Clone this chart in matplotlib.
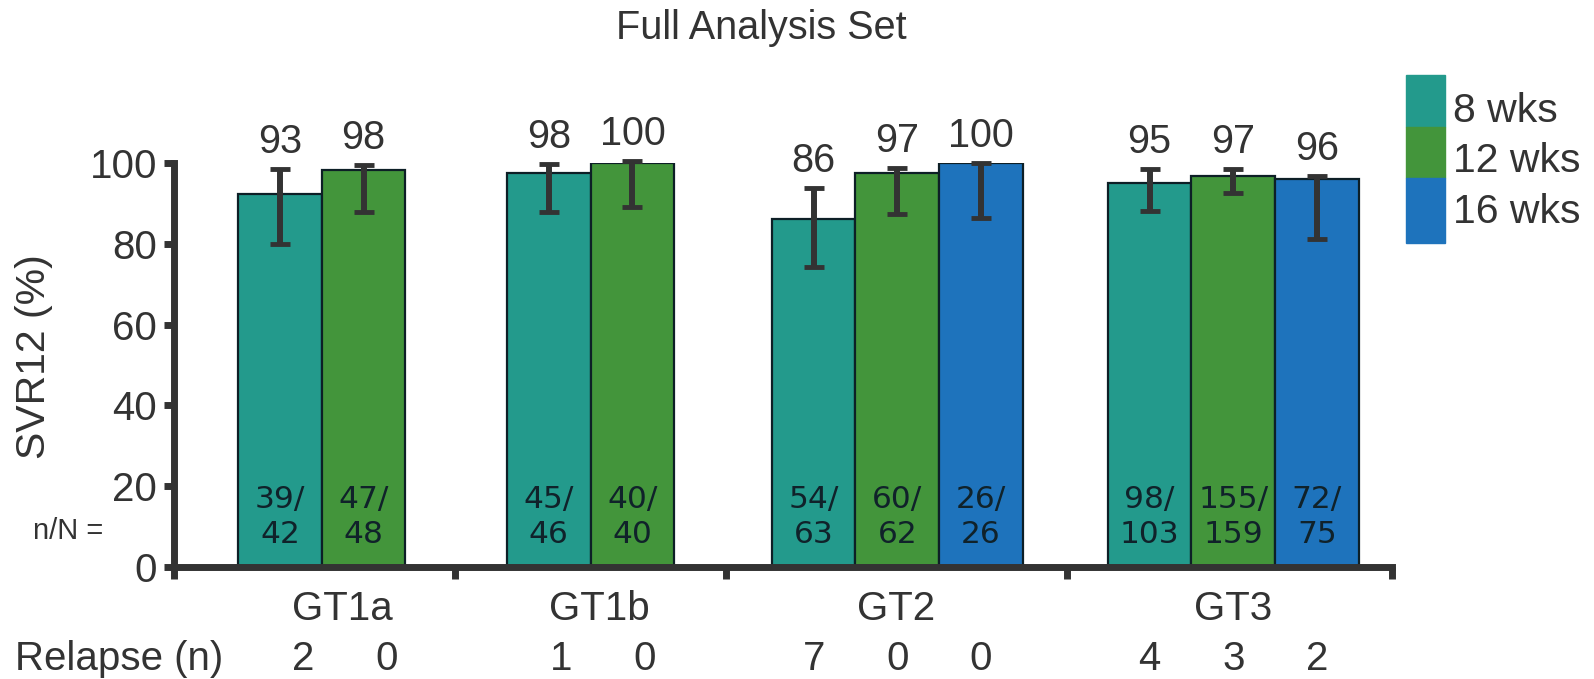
import matplotlib
matplotlib.use("Agg")
import matplotlib.pyplot as plt
import matplotlib.transforms as mtransforms
from matplotlib.patches import Rectangle

plt.rcParams['font.family'] = ['Liberation Sans', 'DejaVu Sans']

# data
genotypes = ['GT1a', 'GT1b', 'GT2', 'GT3']
durations = ['8 wks', '12 wks', '16 wks']
svr = [[92.3, 98.3], [97.5, 100.0], [86.1, 97.5, 100.0], [95.0, 96.8, 96.0]]
svr_labels = [['93', '98'], ['98', '100'], ['86', '97', '100'], ['95', '97', '96']]
ci_low = [[80.0, 87.9], [87.9, 89.1], [74.3, 87.4, 86.4], [88.2, 92.5, 81.1]]
ci_high = [[98.5, 99.5], [99.7, 100.6], [93.8, 98.8, 100.0], [98.4, 98.4, 96.7]]
n_resp = [[39, 47], [45, 40], [54, 60, 26], [98, 155, 72]]
n_total = [[42, 48], [46, 40], [63, 62, 26], [103, 159, 75]]
relapse = [[2, 0], [1, 0], [7, 0, 0], [4, 3, 2]]

colors = ['#239a8c', '#43953b', '#1e73bc']
dark = '#333333'

# layout (bar width = 1 unit)
group_start = [0.767, 3.98, 7.146, 11.163]
group_label_x = [2.01, 5.08, 8.63, 12.66]
relapse_shift = [0.28, 0.15, 0.0, 0.0]
separators = [0, 3.357, 6.595, 10.67, 14.56]

fig = plt.figure(figsize=(15.94, 6.79), dpi=100)
ax = fig.add_axes([174 / 1594, 1 - 567 / 679, 1218 / 1594, 404 / 679])

blend = mtransforms.blended_transform_factory(ax.transData, ax.transAxes)

for g, name in enumerate(genotypes):
    k = len(svr[g])
    xs = [group_start[g] + 0.5 + i for i in range(k)]
    ax.bar(xs, svr[g], width=1.0, color=colors[:k], edgecolor='#0d1f26',
           linewidth=1.6, zorder=2)
    lo = [v - l for v, l in zip(svr[g], ci_low[g])]
    hi = [h - v for v, h in zip(svr[g], ci_high[g])]
    eb = ax.errorbar(xs, svr[g], yerr=[lo, hi], fmt='none', ecolor=dark,
                     elinewidth=4.3, capsize=7, capthick=3.5, zorder=3)
    for art in eb.lines[1] + eb.lines[2]:
        art.set_clip_on(False)
    for i, x in enumerate(xs):
        ax.annotate(svr_labels[g][i], (x, ci_high[g][i]), xytext=(0, 11.5),
                    textcoords='offset points', ha='center', va='baseline',
                    fontsize=28.5, color=dark, annotation_clip=False)
        ax.text(x, 5.94, f"{n_resp[g][i]}/\n{n_total[g][i]}", ha='center',
                va='baseline', multialignment='center', fontsize=22.5,
                family='DejaVu Sans', color='#10222a', linespacing=1.27,
                zorder=4)
        ax.text(x + relapse_shift[g], -0.255, str(relapse[g][i]),
                transform=blend, ha='center', va='baseline',
                fontsize=29, color=dark)
    ax.text(group_label_x[g], -0.131, name, transform=blend, ha='center',
            va='baseline', fontsize=29, color=dark)

ax.set_xlim(0, 14.56)
ax.set_ylim(0, 100)
ax.set_yticks([0, 20, 40, 60, 80, 100])
ax.set_xticks(separators)
ax.set_xticklabels([])
for side in ['top', 'right']:
    ax.spines[side].set_visible(False)
for side in ['left', 'bottom']:
    ax.spines[side].set_color(dark)
    ax.spines[side].set_linewidth(5)
ax.tick_params(axis='y', colors=dark, labelsize=29, width=5, length=7, pad=5)
ax.tick_params(axis='x', colors=dark, width=5, length=8.5)

fig.text(761 / 1594, 1 - 39 / 679, 'Full Analysis Set', ha='center',
         va='baseline', fontsize=28.5, color=dark)
fig.text(34 / 1594, 1 - 357 / 679, 'SVR12 (%)', rotation=90, ha='center',
         va='center', fontsize=29.5, color=dark)
fig.text(103 / 1594, 1 - 539 / 679, 'n/N =', ha='right', va='baseline',
         fontsize=21, color=dark)
fig.text(15 / 1594, 1 - 670 / 679, 'Relapse (n)', ha='left', va='baseline',
         fontsize=29, color=dark)

# legend as stacked colour blocks
edges = [75, 127, 178, 243]
text_base = [122, 172, 223]
for i, lab in enumerate(durations):
    fig.patches.append(Rectangle((1406 / 1594, 1 - edges[i + 1] / 679),
                                 39 / 1594, (edges[i + 1] - edges[i]) / 679,
                                 transform=fig.transFigure, color=colors[i]))
    fig.text(1453 / 1594, 1 - text_base[i] / 679, lab, ha='left',
             va='baseline', fontsize=29.5, color=dark)

fig.savefig('out.png', dpi=100)
